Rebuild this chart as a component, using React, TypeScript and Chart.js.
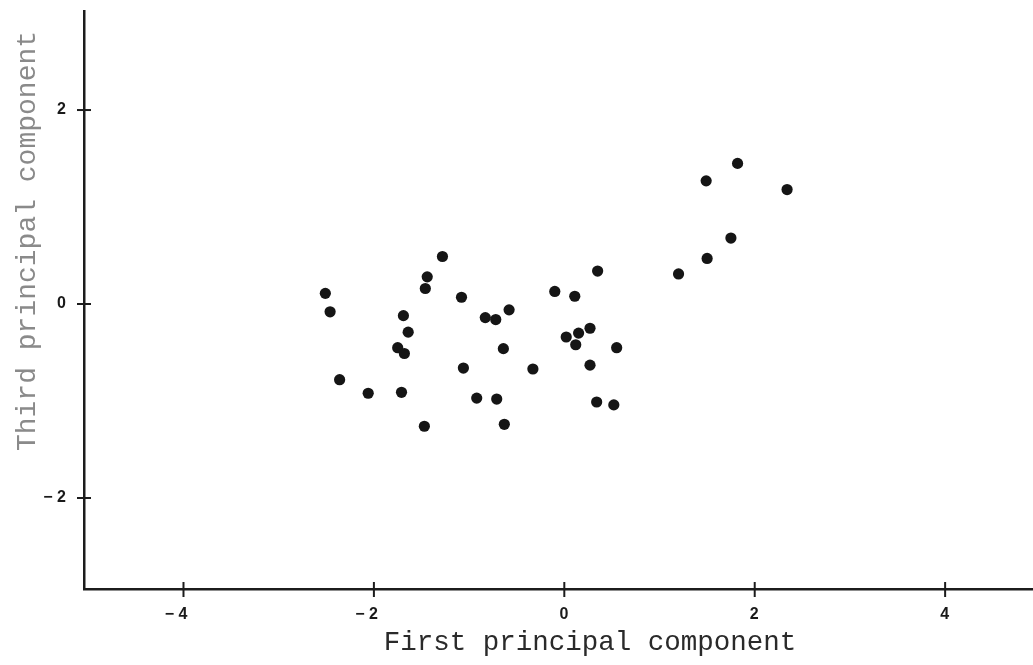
import { useEffect, useRef } from 'react';
import { Chart, registerables } from 'chart.js';

Chart.register(...registerables);

// Scores of each specimen on the first and third principal components
const firstComponent = [
  -2.51, -2.46, -2.36, -2.06, -1.71, -1.69, -1.64, -1.75, -1.68, -1.47,
  -1.44, -1.46, -1.28, -1.08, -1.06, -0.92, -0.83, -0.72, -0.71, -0.64,
  -0.63, -0.58, -0.33, -0.10, 0.11, 0.02, 0.12, 0.15, 0.27, 0.27,
  0.35, 0.34, 0.52, 0.55, 1.20, 1.50, 1.49, 1.75, 1.82, 2.34,
];
const thirdComponent = [
  0.11, -0.08, -0.78, -0.92, -0.91, -0.12, -0.29, -0.45, -0.51, -1.26,
  0.28, 0.16, 0.49, 0.07, -0.66, -0.97, -0.14, -0.16, -0.98, -0.46,
  -1.24, -0.06, -0.67, 0.13, 0.08, -0.34, -0.42, -0.30, -0.25, -0.63,
  0.34, -1.01, -1.04, -0.45, 0.31, 0.47, 1.27, 0.68, 1.45, 1.18,
];

const xTickValues = [-4, -2, 0, 2, 4];
const xTickLabels = ['\u2212 4', '\u2212 2', '0', '2', '4'];
const yTickValues = [-2, 0, 2];
const yTickLabels = ['\u2212 2', '0', '2'];

const xTitle = 'First principal component';
const yTitle = 'Third principal component';

const AXIS_COLOR = '#1c1c1c';

// Short cross-marks through the axes at each tick, plus the axis captions
const axisMarks = {
  id: 'axisMarks',
  afterDraw(chart: any) {
    const { ctx, chartArea, scales } = chart;
    const xs = scales.x;
    const ys = scales.y;
    ctx.save();
    ctx.strokeStyle = AXIS_COLOR;
    ctx.lineWidth = 2;
    xs.ticks.forEach((t: any) => {
      const px = xs.getPixelForValue(t.value);
      ctx.beginPath();
      ctx.moveTo(px, chartArea.bottom - 7);
      ctx.lineTo(px, chartArea.bottom + 8);
      ctx.stroke();
    });
    ys.ticks.forEach((t: any) => {
      const py = ys.getPixelForValue(t.value);
      ctx.beginPath();
      ctx.moveTo(chartArea.left - 7, py);
      ctx.lineTo(chartArea.left + 7, py);
      ctx.stroke();
    });

    ctx.textAlign = 'center';
    ctx.textBaseline = 'middle';
    ctx.font = '27.5px "Liberation Mono", "DejaVu Sans Mono", monospace';
    ctx.fillStyle = '#2a2a2a';
    ctx.fillText(xTitle, 590, chartArea.bottom + 54);

    ctx.font = '28px "Liberation Mono", "DejaVu Sans Mono", monospace';
    ctx.translate(28, chartArea.top + 230);
    ctx.rotate(-Math.PI / 2);
    ctx.fillStyle = '#8a8a8a';
    ctx.fillText(yTitle, 0, 0);
    ctx.restore();
  },
};

export default function App() {
  const canvasRef = useRef<HTMLCanvasElement | null>(null);

  useEffect(() => {
    const canvas = canvasRef.current;
    if (!canvas) return;
    const tickFont = { family: '"Liberation Sans", Arial, sans-serif', size: 16, weight: 'bold' as const };

    const chart = new Chart(canvas, {
      type: 'scatter',
      data: {
        datasets: [
          {
            data: firstComponent.map((x, i) => ({ x, y: thirdComponent[i] })),
            backgroundColor: '#151515',
            borderWidth: 0,
            pointRadius: 5.6,
            pointHoverRadius: 5.6,
          },
        ],
      },
      options: {
        responsive: false,
        animation: false,
        events: [],
        layout: { autoPadding: false, padding: { top: 11, right: 0, left: 0, bottom: 0 } },
        plugins: {
          legend: { display: false },
          tooltip: { enabled: false },
        },
        scales: {
          x: {
            type: 'linear',
            min: -5.045,
            max: 4.923,
            afterBuildTicks: (s: any) => {
              s.ticks = xTickValues.map((value) => ({ value }));
            },
            afterFit: (s: any) => {
              s.height = 76;
              s.paddingLeft = 0;
              s.paddingRight = 0;
            },
            grid: { display: false, drawTicks: false },
            border: { display: true, color: AXIS_COLOR, width: 2.5 },
            ticks: {
              autoSkip: false,
              maxRotation: 0,
              align: 'end',
              labelOffset: 4,
              padding: 16,
              color: '#1a1a1a',
              font: tickFont,
              callback: (v: any) => xTickLabels[xTickValues.indexOf(Number(v))] ?? '',
            },
          },
          y: {
            type: 'linear',
            min: -2.938,
            max: 3.021,
            afterBuildTicks: (s: any) => {
              s.ticks = yTickValues.map((value) => ({ value }));
            },
            afterFit: (s: any) => {
              s.width = 84;
              s.paddingTop = 0;
              s.paddingBottom = 0;
            },
            grid: { display: false, drawTicks: false },
            border: { display: true, color: AXIS_COLOR, width: 2.5 },
            ticks: {
              autoSkip: false,
              padding: 18,
              color: '#1a1a1a',
              font: tickFont,
              callback: (v: any) => yTickLabels[yTickValues.indexOf(Number(v))] ?? '',
            },
          },
        },
      },
      plugins: [axisMarks],
    });

    return () => chart.destroy();
  }, []);

  return (
    <div style={{ position: 'absolute', left: 0, top: 0, width: 1033, height: 665, background: '#ffffff' }}>
      <canvas ref={canvasRef} width={1033} height={665} />
    </div>
  );
}
